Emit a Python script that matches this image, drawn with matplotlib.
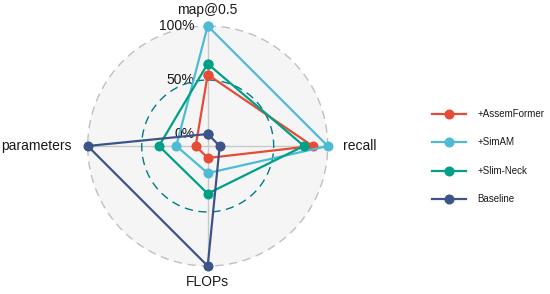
import numpy as np
import matplotlib
matplotlib.use("Agg")
import matplotlib.pyplot as plt
import matplotlib.transforms as mtransforms

plt.rcParams['font.family'] = ['Liberation Sans', 'DejaVu Sans']

categories = ['map@0.5', 'recall', 'FLOPs', 'parameters']
series_names = ['+AssemFormer', '+SimAM', '+Slim-Neck', 'Baseline']
assemformer = [0.55, 0.86, 0.0, 0.0]
simam = [1.0, 1.0, 0.14, 0.18]
slimneck = [0.65, 0.78, 0.33, 0.34]
baseline = [0.0, 0.0, 1.0, 1.0]
grid_values = [0.0, 0.5, 1.0]
grid_labels = ['0%', '50%', '100%']
colors = ['#E64B35', '#4DBBD5', '#00A087', '#3C5488']

centre = -1 / 9

fig = plt.figure(figsize=(5.5, 2.94), dpi=100)
R = 120
cx, cy = 207.7, 294 - 146
ax = fig.add_axes([(cx - R) / 550, (cy - R) / 294, 2 * R / 550, 2 * R / 294],
                  projection='polar')
ax.set_theta_offset(np.pi / 2)
ax.set_theta_direction(-1)
ax.set_ylim(centre, 1.0)
ax.set_facecolor('#F5F5F5')
ax.spines['polar'].set_visible(False)
ax.grid(False)
ax.set_xticks([])
ax.set_yticks([])

n = len(categories)
angles = np.linspace(0, 2 * np.pi, n, endpoint=False)

# axis lines
for a in angles:
    ax.plot([a, a], [centre, 1.0], color='#C8C8C8', lw=1.0, zorder=1)

# grid circles
tt = np.linspace(0, 2 * np.pi, 400)
ax.plot(tt, np.full_like(tt, 1.0), color='#C0C0C0', lw=1.0,
        linestyle=(0, (6, 4)), zorder=1, clip_on=False)
ax.plot(tt, np.full_like(tt, 0.5), color='#007A87', lw=1.0,
        linestyle=(0, (6, 4)), zorder=1)

# grid labels
off = mtransforms.offset_copy(ax.transData, fig=fig, x=-13, y=0, units='dots')
for v, lab in zip(grid_values, grid_labels):
    ax.text(0, v, lab, transform=off, ha='right', va='center', fontsize=10,
            color='#1A1A1A', zorder=2)

# series
handles = []
for vals, name, col in zip([assemformer, simam, slimneck, baseline],
                           series_names, colors):
    v = list(vals) + [vals[0]]
    a = list(angles) + [angles[0]]
    h, = ax.plot(a, v, color=col, lw=1.6, marker='o', markersize=6.2,
                 label=name, zorder=3, clip_on=False)
    handles.append(h)

# category labels
rl = 1.145
ax.text(angles[0], rl, categories[0], ha='center', va='center', fontsize=10,
        color='#1A1A1A')
ax.text(angles[1], rl, categories[1], ha='left', va='center', fontsize=10,
        color='#1A1A1A')
ax.text(angles[2], rl, categories[2], ha='center', va='center', fontsize=10,
        color='#1A1A1A')
ax.text(angles[3], rl, categories[3], ha='right', va='center', fontsize=10,
        color='#1A1A1A')

leg = fig.legend(handles=handles, loc='center left',
                 bbox_to_anchor=(432 / 550, (294 - 156.7) / 294),
                 frameon=False, fontsize=7, handlelength=3.5,
                 handletextpad=1.2, labelspacing=1.9, borderpad=0,
                 borderaxespad=0)
for t in leg.get_texts():
    t.set_color('#1A1A1A')

fig.savefig('out.png', dpi=100)
